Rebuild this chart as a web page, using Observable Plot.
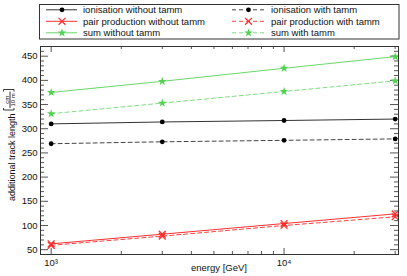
<!DOCTYPE html>
<html><head><meta charset="utf-8">
<script src="https://cdn.jsdelivr.net/npm/d3@7"></script>
<script src="https://cdn.jsdelivr.net/npm/@observablehq/plot@0.6"></script>
<style>body{margin:0;background:#fff} svg{display:block}</style>
</head><body><div id="chart"></div>
<script>
// ---- data ----
const energies = [1000, 3000, 10000, 30000];
const ionNo    = [310, 314, 317, 320];
const ionWith  = [269, 273, 276, 279];
const pairNo   = [62, 82, 104, 124];
const pairWith = [59, 78, 100, 118];
const sumNo    = [375, 398, 425, 449];
const sumWith  = [331, 353, 377, 399];
const seriesNames = ["ionisation without tamm", "ionisation with tamm",
                     "pair production without tamm", "pair production with tamm",
                     "sum without tamm", "sum with tamm"];
const yMajor = [50, 100, 150, 200, 250, 300, 350, 400, 450];
const yMinor = d3.range(40, 471, 10).filter(v => v % 50 !== 0);
const xMajor = [1000, 10000];
const xMinor = [2000, 3000, 4000, 5000, 6000, 7000, 8000, 9000, 20000, 30000];
const xTickLabels = ["10³", "10⁴"];

const FONT = "'Liberation Sans', Arial, Helvetica, sans-serif";
const W = 407, H = 276, mt = 46, mb = 22, ml = 40, mr = 9;
const pw = W - ml - mr, ph = H - mt - mb;

const styles = [
  {values: ionNo,    stroke: "#333", mark: "#000", dash: null,  symbol: "circle", r: 2.4},
  {values: ionWith,  stroke: "#444", mark: "#000", dash: "4,3", symbol: "circle", r: 2.4},
  {values: pairNo,   stroke: "#ff3030", mark: "#ff2a2a", dash: null,  symbol: "times", r: 3.2},
  {values: pairWith, stroke: "#ff4040", mark: "#ff2a2a", dash: "4,3", symbol: "times", r: 3.2},
  {values: sumNo,    stroke: "#6ad86a", mark: "#4fd24f", dash: null,  symbol: "star", r: 2.7},
  {values: sumWith,  stroke: "#7ede7e", mark: "#4fd24f", dash: "4,3", symbol: "star", r: 2.7}
];
const series = styles.map((s, k) => ({...s, name: seriesNames[k],
  rows: energies.map((e, i) => ({energy: e, value: s.values[i]}))}));

const marks = [
  Plot.ruleY(yMajor, {stroke: "#555", insetRight: pw - 8}),
  Plot.ruleY(yMinor, {stroke: "#555", insetRight: pw - 4}),
  Plot.ruleY(yMajor, {stroke: "#555", insetLeft: pw - 8}),
  Plot.ruleY(yMinor, {stroke: "#555", insetLeft: pw - 4}),
  Plot.ruleX(xMajor, {stroke: "#555", insetTop: ph - 6}),
  Plot.ruleX(xMinor, {stroke: "#555", insetTop: ph - 3}),
  Plot.ruleX(xMajor, {stroke: "#555", insetBottom: ph - 6}),
  Plot.ruleX(xMinor, {stroke: "#555", insetBottom: ph - 3})
];
for (const s of series) {
  marks.push(Plot.line(s.rows, {x: "energy", y: "value", stroke: s.stroke, strokeWidth: 1,
    strokeDasharray: s.dash || undefined}));
}
for (const s of series) {
  if (s.symbol === "times") {
    marks.push(Plot.dot(s.rows, {x: "energy", y: "value", symbol: "times", r: s.r, stroke: s.mark, strokeWidth: 1.2, fill: "none"}));
  } else {
    marks.push(Plot.dot(s.rows, {x: "energy", y: "value", symbol: s.symbol, r: s.r, fill: s.mark, stroke: "none"}));
  }
}
marks.push(Plot.frame({stroke: "#333"}));
marks.push(Plot.axisY(yMajor, {tickSize: 0, tickPadding: 3, label: null, fill: "#111"}));
marks.push(Plot.axisX(xMajor, {tickSize: 0, tickPadding: 5, label: null, fill: "#111",
  tickFormat: d => xTickLabels[xMajor.indexOf(d)]}));

const plot = Plot.plot({
  width: W, height: H,
  marginTop: mt, marginBottom: mb, marginLeft: ml, marginRight: mr,
  x: {type: "log", domain: [900, 31000]},
  y: {domain: [40, 470]},
  style: {fontFamily: FONT, fontSize: "9.5px", background: "#fff", overflow: "visible"},
  marks
});
document.getElementById("chart").appendChild(plot);

// ---- legend and axis titles ----
const svg = d3.select(plot);
const lg = svg.append("g").attr("font-family", FONT).attr("font-size", "9.5px").attr("text-anchor", "start");
lg.append("rect").attr("x", 39.5).attr("y", 4.5).attr("width", 359.5).attr("height", 34.5)
  .attr("fill", "#fff").attr("stroke", "#333");
const rowY = [9.8, 21.3, 32.8];
const cols = [{x1: 46, x2: 77, m: 62, t: 83}, {x1: 232, x2: 267, m: 248.5, t: 271}];
const symMap = {circle: d3.symbolCircle, times: d3.symbolTimes, star: d3.symbolStar};
series.forEach((s, k) => {
  const c = cols[k % 2], y = rowY[Math.floor(k / 2)];
  lg.append("line").attr("x1", c.x1).attr("x2", c.x2).attr("y1", y).attr("y2", y)
    .attr("stroke", s.stroke).attr("stroke-width", 1).attr("stroke-dasharray", s.dash);
  const p = lg.append("path").attr("transform", `translate(${c.m},${y})`)
    .attr("d", d3.symbol(symMap[s.symbol], s.r * s.r * Math.PI)());
  if (s.symbol === "times") p.attr("fill", "none").attr("stroke", s.mark).attr("stroke-width", 1.2);
  else p.attr("fill", s.mark);
  lg.append("text").attr("x", c.t).attr("y", y + 3.4).attr("fill", "#111")
    .attr("text-anchor", "start").text(s.name);
});

svg.append("text").attr("x", ml + pw / 2).attr("y", 270.5).attr("text-anchor", "middle")
  .attr("font-family", FONT).attr("font-size", "9.5px").attr("fill", "#111").text("energy [GeV]");

const yl = svg.append("g").attr("transform", "translate(15,201) rotate(-90)")
  .attr("font-family", FONT).attr("fill", "#111");
yl.append("text").attr("x", 0).attr("y", 0).attr("font-size", "9px")
  .attr("text-anchor", "start").text("additional track length");
yl.append("path").attr("d", "M93,-11.5H91V-1H93 M109.5,-11.5H111.5V-1H109.5 M93,-5H109.5")
  .attr("fill", "none").attr("stroke", "#222").attr("stroke-width", 0.9);
yl.append("text").attr("x", 101.2).attr("y", -6.3).attr("text-anchor", "middle").attr("font-size", "6px").text("cm");
yl.append("text").attr("x", 101.2).attr("y", -0.2).attr("text-anchor", "middle").attr("font-size", "6px").text("10 m");
</script>
</body></html>
